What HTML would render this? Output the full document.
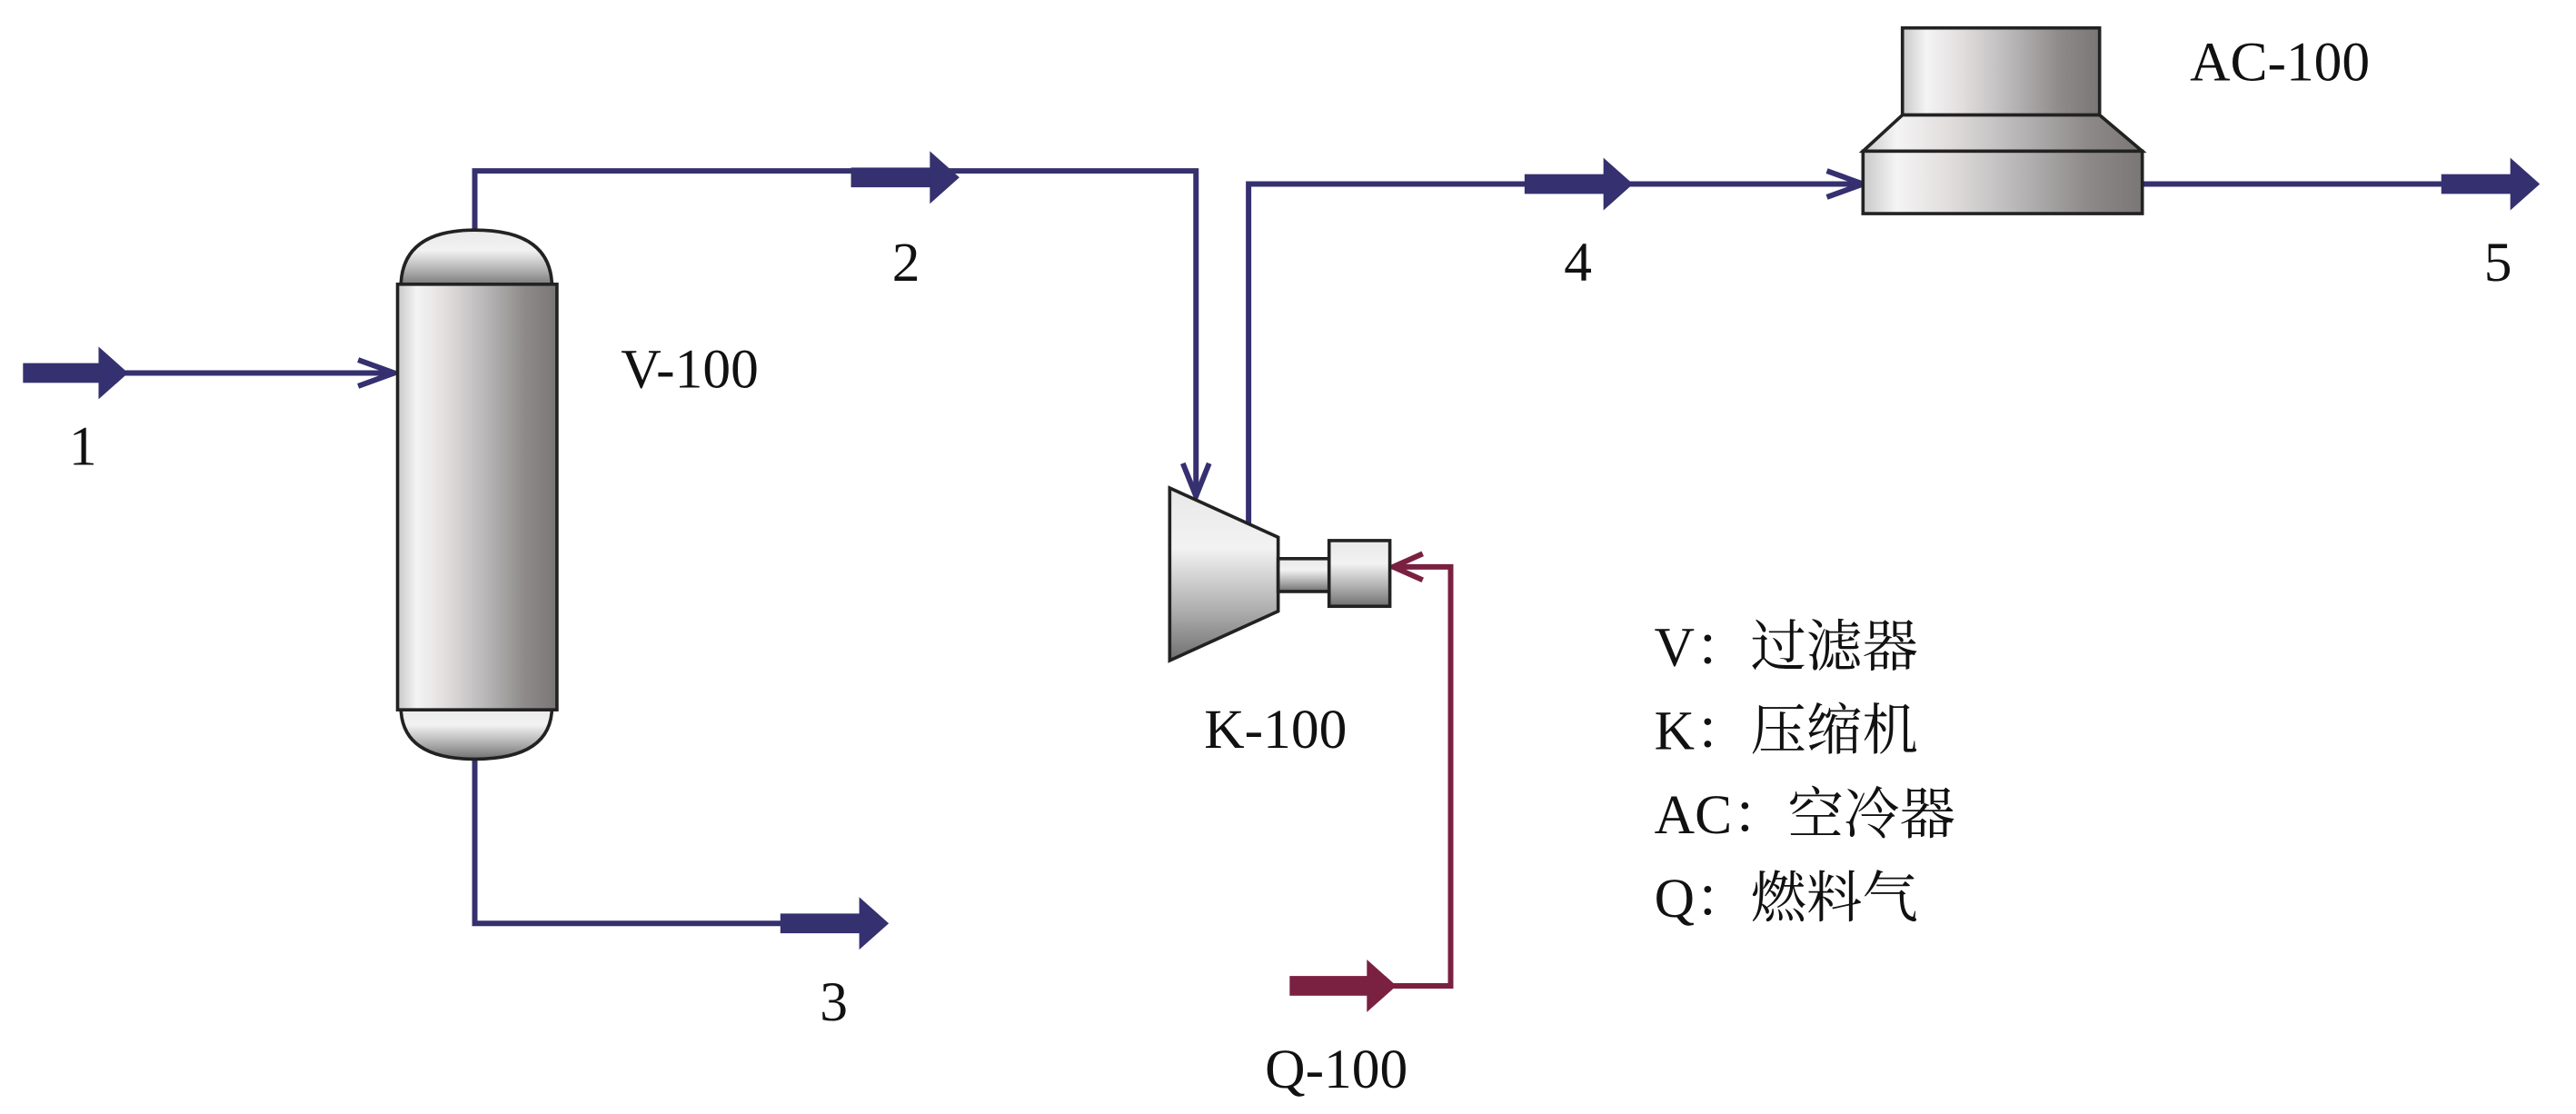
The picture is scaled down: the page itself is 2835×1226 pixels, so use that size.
<!DOCTYPE html>
<html><head><meta charset="utf-8"><style>
html,body{margin:0;padding:0;background:#fff;}
svg{display:block;}
text{font-family:"Liberation Serif","Noto Serif CJK SC",serif;fill:#111;}
</style></head><body>
<svg width="2835" height="1226" viewBox="0 0 1568 678" preserveAspectRatio="none" xmlns="http://www.w3.org/2000/svg">
<defs>
<linearGradient id="gh" x1="0" y1="0" x2="1" y2="0">
<stop offset="0" stop-color="#c8c8c8"/><stop offset="0.12" stop-color="#f4f4f4"/><stop offset="0.3" stop-color="#e2dede"/><stop offset="0.45" stop-color="#c9c7c7"/><stop offset="0.6" stop-color="#b0aeae"/><stop offset="0.8" stop-color="#8e8a8a"/><stop offset="1" stop-color="#7a7676"/>
</linearGradient>
<linearGradient id="gv" x1="0" y1="0" x2="0" y2="1">
<stop offset="0" stop-color="#e8e8e8"/><stop offset="0.35" stop-color="#f2f2f2"/><stop offset="0.7" stop-color="#b0b0b0"/><stop offset="1" stop-color="#707070"/>
</linearGradient>
</defs>
<g fill="none" stroke="#35306f" stroke-width="3.3">
<line x1="62" y1="227" x2="240" y2="227"/>
<polyline points="218,219 240,227 218,235"/>
<polyline points="289,142 289,104 728,104 728,300"/>
<polyline points="720,282 728,302 736,282"/>
<polyline points="289,462 289,562 480,562"/>
<polyline points="760,322 760,112 1133,112"/>
<polyline points="1112,104 1134,112 1112,120"/>
<line x1="1304" y1="112" x2="1490" y2="112"/>
</g>
<g fill="#35306f">
<rect x="14" y="221" width="50" height="12"/><polygon points="60,211 78,227 60,243"/>
<rect x="518" y="102" width="52" height="12"/><polygon points="566,92 584,108 566,124"/>
<rect x="475" y="556" width="52" height="12"/><polygon points="523,546 541,562 523,578"/>
<rect x="928" y="106" width="52" height="12"/><polygon points="976,96 994,112 976,128"/>
<rect x="1486" y="106" width="46" height="12"/><polygon points="1528,96 1546,112 1528,128"/>
</g>
<g fill="none" stroke="#7a2040" stroke-width="3.3">
<polyline points="848,600 883,600 883,345 850,345"/>
<polyline points="866,337 848,345 866,353"/>
</g>
<g fill="#7a2040"><rect x="785" y="594" width="50" height="12"/><polygon points="832,584 850,600 832,616"/></g>
<g stroke="#222" stroke-width="2">
<path d="M244,175 Q244,140 289,140 Q336,140 336,175 Z" fill="url(#gv)"/>
<path d="M244,430 Q244,462 289,462 Q336,462 336,430 Z" fill="url(#gv)"/>
<rect x="242" y="173" width="97" height="259" fill="url(#gh)"/>
</g>
<g stroke="#222" stroke-width="2">
<polygon points="712,297 778,327 778,372 712,402" fill="url(#gv)"/>
<rect x="778" y="340" width="32" height="20" fill="url(#gv)"/>
<rect x="809" y="329" width="37" height="40" fill="url(#gv)"/>
</g>
<g stroke="#222" stroke-width="2">
<rect x="1158" y="17" width="120" height="53" fill="url(#gh)"/>
<polygon points="1158,70 1278,70 1304,92 1134,92" fill="url(#gh)"/>
<rect x="1134" y="92" width="170" height="38" fill="url(#gh)"/>
</g>
<g font-size="34">
<text x="42" y="283">1</text>
<text x="543" y="171">2</text>
<text x="499" y="621">3</text>
<text x="952" y="171">4</text>
<text x="1512" y="171">5</text>
<text x="378" y="236">V-100</text>
<text x="733" y="455">K-100</text>
<text x="1333" y="49">AC-100</text>
<text x="770" y="662">Q-100</text>
</g>
<g font-size="34">
<text x="1007" y="405">V：过滤器</text>
<text x="1007" y="456">K：压缩机</text>
<text x="1007" y="507">AC：空冷器</text>
<text x="1007" y="558">Q：燃料气</text>
</g>
</svg>
</body></html>
